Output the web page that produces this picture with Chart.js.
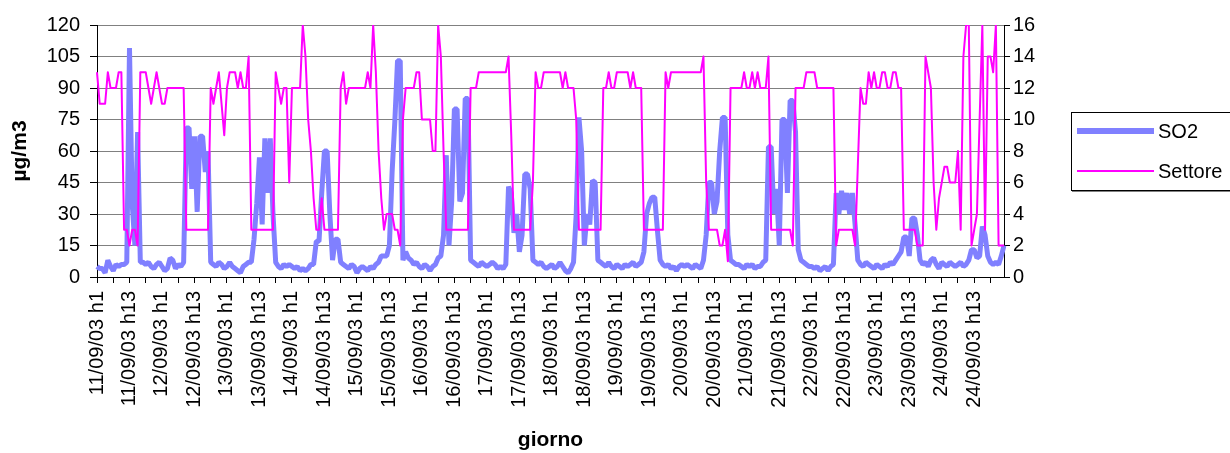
<!DOCTYPE html>
<html>
<head>
<meta charset="utf-8">
<script src="https://cdn.jsdelivr.net/npm/chart.js@4.4.1/dist/chart.umd.min.js"></script>
<style>
  html, body { margin: 0; padding: 0; background: #ffffff; }
  #wrap { width: 1230px; height: 453px; position: relative; }
  canvas { display: block; }
</style>
</head>
<body>
<div id="wrap"><canvas id="c" width="1230" height="453"></canvas></div>
<script>
// ---- data ----
const days = ['11/09/03','12/09/03','13/09/03','14/09/03','15/09/03','16/09/03','17/09/03',
              '18/09/03','19/09/03','20/09/03','21/09/03','22/09/03','23/09/03','24/09/03'];
const hoursPerDay = 24;

// SO2 (µg/m3), hourly, one row per day
const so2 = [
  5,4,4,2,8,5,3,6,5,6,6,7,109,35,15,69,7,7,6,7,5,4,6,7,
  5,3,4,9,8,4,6,5,7,71,71,42,67,31,67,67,50,60,7,6,5,7,6,4,
  5,7,5,4,3,2,5,6,7,7,18,35,57,25,66,40,66,30,7,5,4,6,5,6,
  5,4,5,3,4,3,4,6,6,17,17,40,60,60,30,8,18,18,7,6,5,4,6,5,
  2,4,5,4,3,5,4,6,7,10,10,10,15,50,74,103,103,8,12,9,8,6,7,5,
  4,6,5,3,5,6,9,10,20,58,15,36,80,80,36,40,85,85,8,7,6,5,7,6,
  5,6,7,6,4,5,4,6,43,40,21,30,12,20,49,49,42,8,7,6,7,5,4,5,
  6,4,5,7,5,3,2,4,7,30,76,60,15,30,25,46,45,8,7,6,5,7,5,4,
  6,5,4,6,5,6,7,5,6,7,12,30,35,38,38,22,8,6,5,6,4,5,3,5,
  6,5,6,5,4,6,5,4,8,20,45,45,30,36,60,76,76,20,8,7,6,6,5,4,
  6,5,6,4,5,5,7,8,62,62,30,42,15,75,75,40,84,84,69,13,8,7,6,5,
  5,4,5,3,4,5,3,5,6,40,30,41,32,40,30,40,25,8,6,5,7,6,5,4,
  6,5,4,6,5,7,6,8,10,12,19,19,10,28,28,20,8,6,7,5,8,9,6,4,
  7,6,5,7,6,5,6,7,5,6,8,13,13,9,10,24,20,10,7,6,7,6,10,15
];

// Settore (wind sector), hourly, one row per day
const settore = [
  13,11,11,11,13,12,12,12,13,13,3,3,2,3,3,2,13,13,13,12,11,12,13,12,
  11,11,12,12,12,12,12,12,12,3,3,3,3,3,3,3,3,3,12,11,12,13,11,9,
  12,13,13,13,12,13,12,12,14,3,3,3,3,3,3,3,3,3,13,12,11,12,12,6,
  12,12,12,12,16,14,10,8,5,3,3,5,3,3,3,3,3,3,12,13,11,12,12,12,
  12,12,12,12,13,12,16,13,8,5,3,4,4,4,3,3,2,10,12,12,12,12,13,13,
  10,10,10,10,8,8,16,14,8,3,3,3,3,3,3,3,3,3,12,12,12,13,13,13,
  13,13,13,13,13,13,13,13,14,9,3,3,3,3,3,3,3,6,13,12,12,13,13,13,
  13,13,13,13,12,13,12,12,12,10,3,3,3,3,3,3,3,3,3,12,12,13,12,12,
  13,13,13,13,13,12,13,12,12,12,3,3,3,3,3,3,3,3,13,12,13,13,13,13,
  13,13,13,13,13,13,13,13,14,6,3,3,3,3,2,2,3,1,12,12,12,12,12,13,
  12,12,13,12,13,12,12,12,14,3,3,3,3,3,3,3,3,2,12,12,12,12,13,13,
  13,13,12,12,12,12,12,12,12,2,3,3,3,3,3,3,2,7,12,11,11,13,12,13,
  12,12,13,13,12,12,13,13,12,12,3,3,3,3,3,2,2,2,14,13,12,6,3,5,
  6,7,7,6,6,6,8,3,14,16,16,2,3,4,10,16,3,14,14,13,16,2,2,2
];

// axis ranges / ticks
const leftMax = 120, leftStep = 15;
const rightMax = 16, rightStep = 2;
const labelEvery = 12;   // hours between x labels
const tickEvery = 6;     // hours between x tick marks

// categories built from days x hours
const categories = [];
days.forEach(d => { for (let h = 1; h <= hoursPerDay; h++) categories.push(d + ' h' + h); });

const FONT = '"Liberation Sans", Arial, sans-serif';

// legend drawn as a framed box (Excel style)
const boxLegend = {
  id: 'boxLegend',
  afterDraw(chart) {
    const ctx = chart.ctx;
    const bx = chart.chartArea.right + 67;
    const by = 112;
    const bw = 175, bh = 78;
    ctx.save();
    ctx.strokeStyle = '#808080';
    ctx.lineWidth = 1;
    ctx.beginPath();
    ctx.moveTo(bx + 1, by + bh + 1.5);
    ctx.lineTo(bx + bw, by + bh + 1.5);
    ctx.stroke();
    ctx.strokeStyle = '#000000';
    ctx.strokeRect(bx + 0.5, by + 0.5, bw, bh);
    const rows = [by + 19, by + 59];
    chart.data.datasets.forEach((ds, i) => {
      const y = rows[i];
      ctx.strokeStyle = ds.borderColor;
      ctx.lineWidth = i === 0 ? 6 : 2;
      ctx.lineCap = 'butt';
      ctx.beginPath();
      ctx.moveTo(bx + 6, y);
      ctx.lineTo(bx + 83, y);
      ctx.stroke();
      ctx.fillStyle = '#000000';
      ctx.font = '20px ' + FONT;
      ctx.textBaseline = 'middle';
      ctx.textAlign = 'left';
      ctx.fillText(ds.label, bx + 87, y + 1);
    });
    ctx.restore();
  }
};

new Chart(document.getElementById('c'), {
  type: 'line',
  data: {
    labels: categories,
    datasets: [
      {
        label: 'SO2',
        data: so2,
        yAxisID: 'y',
        borderColor: '#8080ff',
        backgroundColor: '#8080ff',
        borderWidth: 5,
        borderJoinStyle: 'bevel',
        pointRadius: 0,
        tension: 0,
        fill: false,
        order: 2
      },
      {
        label: 'Settore',
        data: settore,
        yAxisID: 'y2',
        borderColor: '#ff00ff',
        backgroundColor: '#ff00ff',
        borderWidth: 2,
        borderJoinStyle: 'round',
        pointRadius: 0,
        tension: 0,
        fill: false,
        order: 1
      }
    ]
  },
  options: {
    responsive: false,
    animation: false,
    events: [],
    layout: { padding: { left: 0, right: 186, top: 25, bottom: 0 } },
    plugins: { legend: { display: false }, tooltip: { enabled: false } },
    scales: {
      x: {
        type: 'category',
        offset: false,
        border: { color: '#000000', width: 1 },
        grid: {
          drawOnChartArea: false,
          drawTicks: true,
          tickLength: 6,
          tickWidth: 1,
          tickColor: (c) => (c.index % tickEvery === 0 ? '#000000' : 'rgba(0,0,0,0)')
        },
        ticks: {
          autoSkip: false,
          maxRotation: 90,
          minRotation: 90,
          padding: 8,
          color: '#000000',
          font: { family: FONT, size: 20 },
          callback: function (v, i) { return i % labelEvery === 0 ? this.getLabelForValue(v) : ''; }
        },
        title: {
          display: true,
          text: 'giorno',
          color: '#000000',
          font: { family: FONT, size: 21, weight: 'bold' },
          padding: { top: 0, bottom: 0 }
        },
        afterFit: (s) => { s.height = 176; }
      },
      y: {
        position: 'left',
        min: 0,
        max: leftMax,
        border: { color: '#000000', width: 1 },
        grid: { color: '#808080', lineWidth: 1, tickColor: '#000000', tickLength: 7 },
        ticks: { stepSize: leftStep, padding: 10, color: '#000000', font: { family: FONT, size: 20 } },
        title: {
          display: true,
          text: 'µg/m3',
          color: '#000000',
          font: { family: FONT, size: 21, weight: 'bold' },
          padding: { top: 8, bottom: 0 }
        },
        afterFit: (s) => { s.width = 97; }
      },
      y2: {
        position: 'right',
        min: 0,
        max: rightMax,
        border: { color: '#000000', width: 1 },
        grid: { drawOnChartArea: false, tickColor: '#000000', tickLength: 6 },
        ticks: { stepSize: rightStep, padding: 3, color: '#000000', font: { family: FONT, size: 20 } },
        afterFit: (s) => { s.width = 40; }
      }
    }
  },
  plugins: [boxLegend]
});
</script>
</body>
</html>
